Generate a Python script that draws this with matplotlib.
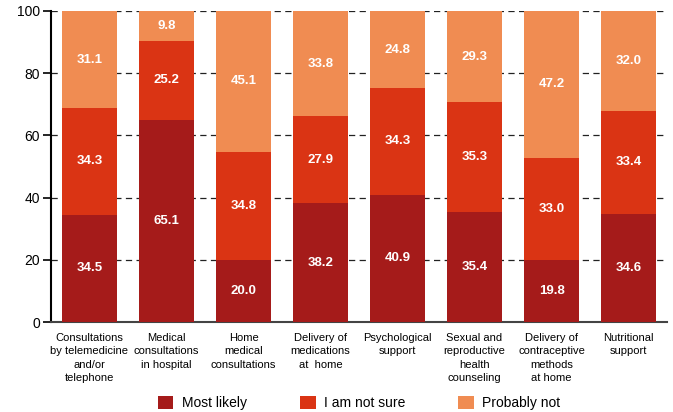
import numpy as np
import matplotlib.pyplot as plt

categories = [
    "Consultations\nby telemedicine\nand/or\ntelephone",
    "Medical\nconsultations\nin hospital",
    "Home\nmedical\nconsultations",
    "Delivery of\nmedications\nat  home",
    "Psychological\nsupport",
    "Sexual and\nreproductive\nhealth\ncounseling",
    "Delivery of\ncontraceptive\nmethods\nat home",
    "Nutritional\nsupport",
]
most_likely = [34.5, 65.1, 20.0, 38.2, 40.9, 35.4, 19.8, 34.6]
not_sure = [34.3, 25.2, 34.8, 27.9, 34.3, 35.3, 33.0, 33.4]
probably_not = [31.1, 9.8, 45.1, 33.8, 24.8, 29.3, 47.2, 32.0]
series_names = ["Most likely", "I am not sure", "Probably not"]

colors = ["#A51B1A", "#DA3414", "#F08C52"]

plt.rcParams['font.family'] = ['Liberation Sans', 'DejaVu Sans']

fig = plt.figure(figsize=(6.73, 4.12), dpi=100)
ax = fig.add_axes([51 / 673, 1 - 322 / 412, 616 / 673, 311 / 412])

x = np.arange(len(categories))
bottom = np.zeros(len(categories))
for vals, col, name in zip([most_likely, not_sure, probably_not], colors, series_names):
    vals = np.array(vals)
    ax.bar(x, vals, bottom=bottom, width=0.727, color=col, label=name, zorder=3)
    for xi, b, v in zip(x, bottom, vals):
        ax.text(xi, b + v / 2, f"{v:.1f}", ha='center', va='center',
                color='white', fontsize=9.5, fontweight='bold', zorder=4)
    bottom += vals

ax.set_xlim(-0.5, 7.5)
ax.set_ylim(0, 100)
ax.set_yticks([0, 20, 40, 60, 80, 100])
ax.yaxis.grid(True, linestyle=(0, (5, 3.5)), color='#222222', linewidth=0.9, zorder=1)
ax.set_xticks(x)
ax.set_xticklabels(categories, fontsize=8, linespacing=1.4, va='top')
ax.tick_params(axis='x', length=0, pad=8)
ax.tick_params(axis='y', length=6, width=1.2, labelsize=10, pad=2, color='black')

for s in ['top', 'right']:
    ax.spines[s].set_visible(False)
ax.spines['left'].set_linewidth(1.5)
ax.spines['bottom'].set_linewidth(1.5)
ax.spines['bottom'].set_color('#444444')

fig.legend(loc='center', bbox_to_anchor=(359 / 673, 1 - 403 / 412), ncol=3, frameon=False,
           fontsize=10, handlelength=1.15, handleheight=1.15, columnspacing=3.8,
           handletextpad=0.6)

fig.savefig('out.png', dpi=100)
